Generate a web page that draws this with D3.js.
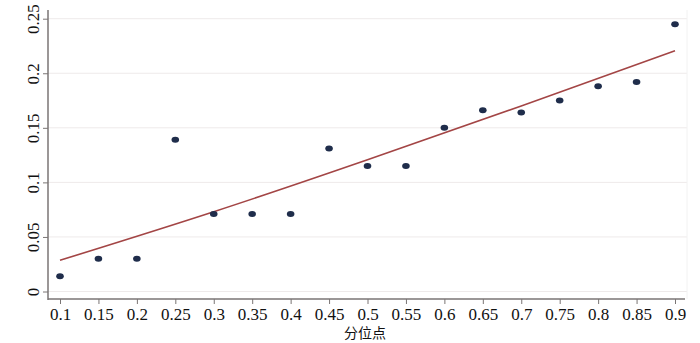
<!DOCTYPE html>
<html><head><meta charset="utf-8">
<script src="https://cdn.jsdelivr.net/npm/d3@7/dist/d3.min.js"></script>
<style>body{margin:0;background:#fff}svg{display:block}</style>
</head><body>
<script>
const quantiles = [0.1,0.15,0.2,0.25,0.3,0.35,0.4,0.45,0.5,0.55,0.6,0.65,0.7,0.75,0.8,0.85,0.9];
const values = [0.014,0.030,0.030,0.139,0.071,0.071,0.071,0.131,0.115,0.115,0.150,0.166,0.164,0.175,0.188,0.192,0.245];
const fitX = [0.1, 0.3, 0.5, 0.7, 0.9];
const fitY = [0.0286, 0.0731, 0.1207, 0.170, 0.2207];
const yTicks = [0,0.05,0.1,0.15,0.2,0.25];
const yTickLabels = ["0","0.05","0.1","0.15","0.2","0.25"];
const xTickLabels = ["0.1","0.15","0.2","0.25","0.3","0.35","0.4","0.45","0.5","0.55","0.6","0.65","0.7","0.75","0.8","0.85","0.9"];
const xTitle = "分位点";

const W=700,H=343;
const svg=d3.select("body").append("svg").attr("width",W).attr("height",H);
const x=d3.scaleLinear().domain([0.1,0.9]).range([60,675]);
const y=d3.scaleLinear().domain([0,0.25]).range([291.5,18.7]);
const pL=48,pR=687,pB=299,pT=10;
const font="'Liberation Serif','Times New Roman',serif";

// gridlines
svg.append("g").selectAll("line").data(yTicks).join("line")
  .attr("x1",pL).attr("x2",pR).attr("y1",d=>y(d)).attr("y2",d=>y(d))
  .attr("stroke","#eeeaea").attr("stroke-width",1);
svg.append("line").attr("x1",pR).attr("x2",pR).attr("y1",pT).attr("y2",pB)
  .attr("stroke","#f2f2f2");

// y axis
const yAxis=d3.axisLeft(y).tickValues(yTicks).tickSize(5).tickFormat((d,i)=>yTickLabels[i]);
const gy=svg.append("g").attr("transform",`translate(${pL},0)`).call(yAxis);
gy.select(".domain").remove();
gy.append("line").attr("x1",0).attr("x2",0).attr("y1",pT).attr("y2",pB+1).attr("stroke","#7a7574").attr("stroke-width",1.5);
gy.selectAll(".tick line").attr("stroke","#7a7574");
gy.selectAll(".tick text").attr("font-family",font).attr("font-size",17).attr("fill","#111")
  .attr("text-anchor","middle").attr("x",null).attr("dy",null)
  .attr("transform","translate(-13,0) rotate(-90)").attr("dominant-baseline","middle");

// x axis
const xAxis=d3.axisBottom(x).tickValues(quantiles).tickSize(5).tickFormat((d,i)=>xTickLabels[i]);
const gx=svg.append("g").attr("transform",`translate(0,${pB})`).call(xAxis);
gx.select(".domain").remove();
gx.append("line").attr("x1",pL).attr("x2",pR-2).attr("y1",0).attr("y2",0).attr("stroke","#7a7574").attr("stroke-width",1.5);
gx.selectAll(".tick line").attr("stroke","#7a7574");
gx.selectAll(".tick text").attr("font-family",font).attr("font-size",17).attr("fill","#111")
  .attr("y",20.5).attr("dy",null);

svg.append("text").attr("x",365).attr("y",338).attr("text-anchor","middle")
  .attr("font-family","'Noto Sans CJK SC',sans-serif").attr("font-size",14).attr("fill","#111").text(xTitle);

// fit line
svg.append("path").datum(fitX.map((d,i)=>[d,fitY[i]]))
  .attr("d",d3.line().curve(d3.curveNatural).x(d=>x(d[0])).y(d=>y(d[1])))
  .attr("stroke","#a34545").attr("stroke-width",1.6).attr("fill","none");

// points
svg.append("g").selectAll("ellipse").data(quantiles).join("ellipse")
  .attr("cx",d=>x(d)).attr("cy",(d,i)=>y(values[i]))
  .attr("rx",3.8).attr("ry",3).attr("fill","#1f2d4b");
</script>
</body></html>
